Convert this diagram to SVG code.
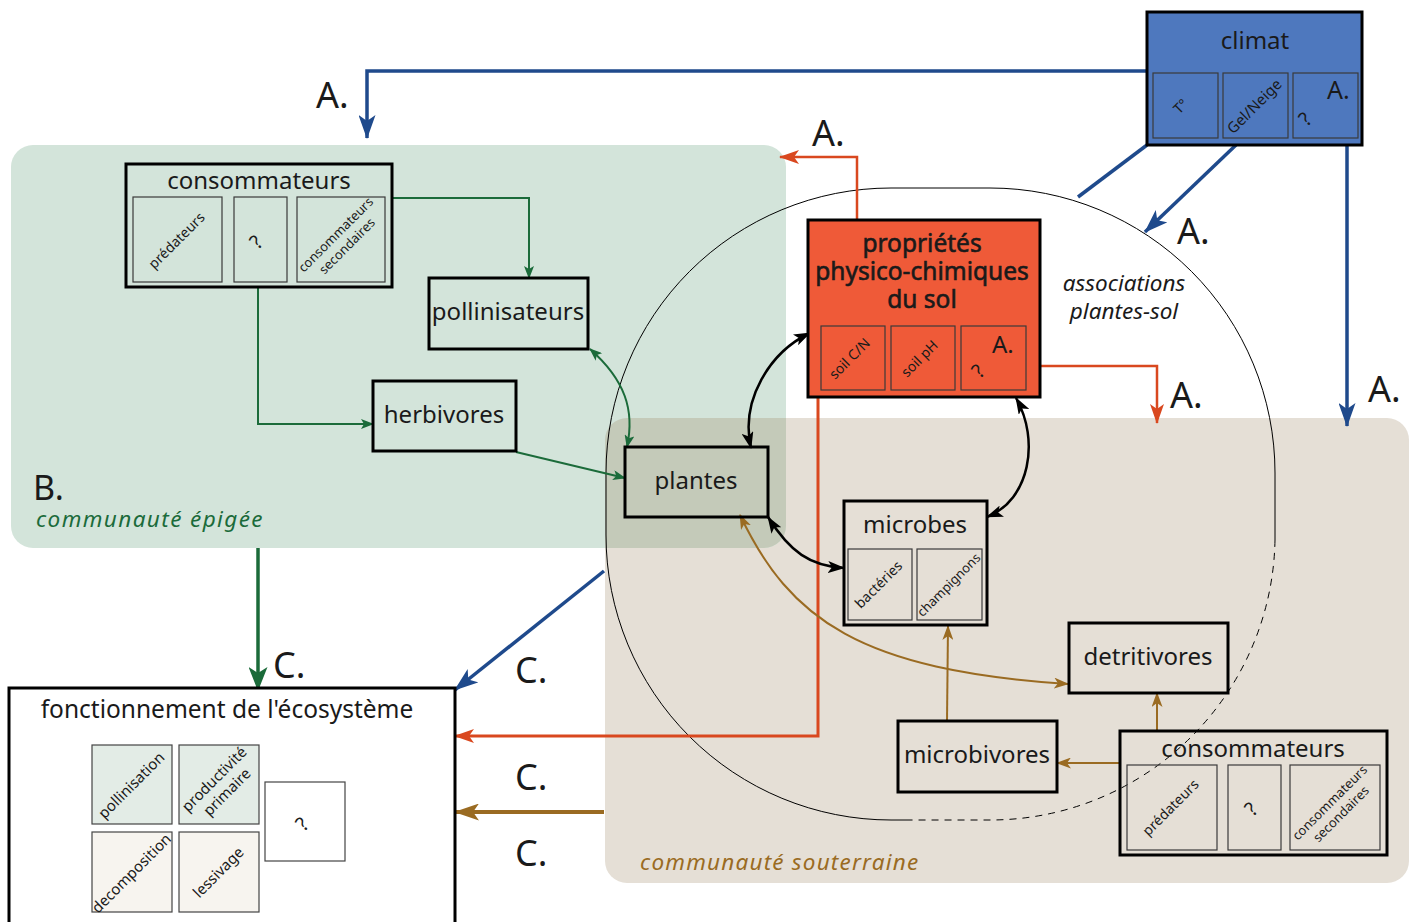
<svg xmlns="http://www.w3.org/2000/svg" width="1415" height="922" viewBox="0 0 1415 922">
<defs>
<style>
text{font-family:"Noto Sans",Lato,sans-serif;fill:#1a1a1a}
.t{font-size:24px;text-anchor:middle}
.s{font-size:14px;text-anchor:middle}
.q{font-size:20px;text-anchor:middle}
.lab{font-size:36px}
.nb{fill:none;stroke:#000;stroke-width:3}
.sb{fill:none;stroke:#3a3a3a;stroke-width:1.2}
.blue{fill:none;stroke:#1f4a8c;stroke-width:3.5}
.or{fill:none;stroke:#d9481f;stroke-width:2.5}
.gr{fill:none;stroke:#1b6b3a;stroke-width:2}
.br{fill:none;stroke:#9a6b22;stroke-width:2}
.bk{fill:none;stroke:#000;stroke-width:2.5}
.it{font-style:italic}
.md{stroke:#1a1a1a;stroke-width:0.6}
</style>
<clipPath id="cg"><rect x="11" y="145" width="775" height="403" rx="22"/></clipPath>
<marker id="mB" viewBox="0 0 24 17" refX="23" refY="8.5" markerWidth="24" markerHeight="17" markerUnits="userSpaceOnUse" orient="auto-start-reverse"><path d="M0,0 L24,8.5 L0,17 L6,8.5 z" fill="#1f4a8c"/></marker>
<marker id="mO" viewBox="0 0 20 14" refX="19" refY="7" markerWidth="20" markerHeight="14" markerUnits="userSpaceOnUse" orient="auto-start-reverse"><path d="M0,0 L20,7 L0,14 L5,7 z" fill="#d9481f"/></marker>
<marker id="mGs" viewBox="0 0 13 10" refX="12" refY="5" markerWidth="13" markerHeight="10" markerUnits="userSpaceOnUse" orient="auto-start-reverse"><path d="M0,0 L13,5 L0,10 L3,5 z" fill="#1b6b3a"/></marker>
<marker id="mGl" viewBox="0 0 24 19" refX="23" refY="9.5" markerWidth="24" markerHeight="19" markerUnits="userSpaceOnUse" orient="auto-start-reverse"><path d="M0,0 L24,9.5 L0,19 L6,9.5 z" fill="#1b6b3a"/></marker>
<marker id="mK" viewBox="0 0 17 12" refX="16" refY="6" markerWidth="17" markerHeight="12" markerUnits="userSpaceOnUse" orient="auto-start-reverse"><path d="M0,0 L17,6 L0,12 L4,6 z" fill="#000"/></marker>
<marker id="mRs" viewBox="0 0 15 11" refX="14" refY="5.5" markerWidth="15" markerHeight="11" markerUnits="userSpaceOnUse" orient="auto-start-reverse"><path d="M0,0 L15,5.5 L0,11 L4,5.5 z" fill="#9a6b22"/></marker>
<marker id="mRl" viewBox="0 0 25 17" refX="24" refY="8.5" markerWidth="25" markerHeight="17" markerUnits="userSpaceOnUse" orient="auto-start-reverse"><path d="M0,0 L25,8.5 L0,17 L6,8.5 z" fill="#9a6b22"/></marker>
</defs>

<g id="regions">
<rect x="605" y="418" width="804" height="465" rx="22" fill="#e5dfd6"/>
<rect x="11" y="145" width="775" height="403" rx="22" fill="#d3e4da"/>
<rect x="605" y="418" width="804" height="465" rx="22" fill="#c4cab9" clip-path="url(#cg)"/>
<text x="33" y="500" class="lab" style="font-size:34px">B.</text>
<text x="36" y="527" class="it" style="font-size:22.5px;letter-spacing:1.4px;fill:#1b6b3a">communauté épigée</text>
<text x="640" y="870" class="it" style="font-size:22.5px;letter-spacing:1.2px;fill:#9a6b22">communauté souterraine</text>
</g>

<g id="associations">
<path d="M910,820 L891,820 A285,285 0 0 1 606,535 L606,473 A285,285 0 0 1 891,188 L990,188 A285,285 0 0 1 1275,473 L1275,540" fill="none" stroke="#000" stroke-width="1"/>
<path d="M1275,540 A285,285 0 0 1 990,820 L910,820" fill="none" stroke="#000" stroke-width="1" stroke-dasharray="7,6"/>
<text x="1124" y="291" class="t it" style="font-size:22.5px">associations</text>
<text x="1124" y="319" class="t it" style="font-size:22.5px">plantes-sol</text>
</g>

<g id="connectors">
<path class="blue" d="M1147,71 L367,71 L367,138" marker-end="url(#mB)"/>
<path class="blue" d="M1147,145 L1078,197"/>
<path class="blue" d="M1236,145 L1145,232" marker-end="url(#mB)"/>
<path class="blue" d="M1347,145 L1347,426" marker-end="url(#mB)"/>
<path class="blue" d="M604,571 L455,690" marker-end="url(#mB)"/>
<path class="or" d="M857,220 L857,157 L780,157" marker-end="url(#mO)"/>
<path class="or" d="M1040,366 L1157,366 L1157,423" marker-end="url(#mO)"/>
<path class="or" d="M818,397 L818,736 L455,736" marker-end="url(#mO)" style="stroke-width:3"/>
<path class="br" d="M604,812 L455,812" marker-end="url(#mRl)" style="stroke-width:4"/>
<path class="br" d="M740,515 C790,620 860,670 1068,684" marker-start="url(#mRs)" marker-end="url(#mRs)"/>
<path class="br" d="M947,721 L948,626" marker-end="url(#mRs)"/>
<path class="br" d="M1157,731 L1157,693" marker-end="url(#mRs)"/>
<path class="br" d="M1120,763 L1057,763" marker-end="url(#mRs)"/>
<path class="gr" d="M392,198 L529,198 L529,278" marker-end="url(#mGs)"/>
<path class="gr" d="M258,287 L258,424 L373,424" marker-end="url(#mGs)"/>
<path class="gr" d="M516,452 L625,478" marker-end="url(#mGs)"/>
<path class="gr" d="M590,349 C625,380 635,410 627,447" marker-start="url(#mGs)" marker-end="url(#mGs)"/>
<path class="gr" d="M258,548 L258,690" marker-end="url(#mGl)" style="stroke-width:3.5"/>
<path class="bk" d="M751,448 C740,400 770,352 810,333" marker-start="url(#mK)" marker-end="url(#mK)"/>
<path class="bk" d="M1016,398 C1040,440 1030,500 987,517" marker-start="url(#mK)" marker-end="url(#mK)"/>
<path class="bk" d="M768,517 C790,552 810,566 844,568" marker-start="url(#mK)" marker-end="url(#mK)"/>
<text x="316" y="108" class="lab">A.</text>
<text x="812" y="146" class="lab">A.</text>
<text x="1177" y="244" class="lab">A.</text>
<text x="1170" y="408" class="lab">A.</text>
<text x="1368" y="402" class="lab">A.</text>
<text x="273" y="678" class="lab">C.</text>
<text x="515" y="683" class="lab">C.</text>
<text x="515" y="790" class="lab">C.</text>
<text x="515" y="866" class="lab">C.</text>
</g>

<g id="climat">
<rect x="1147" y="12" width="215" height="133" fill="#4e78be" stroke="#000" stroke-width="3"/>
<text x="1255" y="49" class="t">climat</text>
<rect x="1153" y="73" width="65" height="65" class="sb" stroke="#23395f"/>
<rect x="1223" y="73" width="65" height="65" class="sb" stroke="#23395f"/>
<rect x="1293" y="73" width="65" height="65" class="sb" stroke="#23395f"/>
<text class="s" transform="translate(1184,110) rotate(-45)">T°</text>
<text class="s" style="font-size:15px" transform="translate(1258,110) rotate(-45)">Gel/Neige</text>
<text x="1327" y="99" style="font-size:25px">A.</text>
<text class="q" transform="translate(1310,124) rotate(-45)">?</text>
</g>

<g id="consommateurs-epigee">
<rect x="126" y="164" width="266" height="123" class="nb"/>
<text x="259" y="189" class="t">consommateurs</text>
<rect x="133" y="197" width="89" height="85" class="sb"/>
<rect x="234" y="197" width="53" height="85" class="sb"/>
<rect x="297" y="197" width="88" height="85" class="sb"/>
<text class="s" transform="translate(180,244) rotate(-45)">prédateurs</text>
<text class="q" transform="translate(261,247) rotate(-45)">?</text>
<text class="s" style="font-size:13px" transform="translate(341,240) rotate(-45)"><tspan x="0" y="-3">consommateurs</tspan><tspan x="0" y="13">secondaires</tspan></text>
</g>

<g id="pollinisateurs">
<rect x="429" y="278" width="159" height="71" class="nb"/>
<text x="508" y="320" class="t">pollinisateurs</text>
</g>

<g id="herbivores">
<rect x="373" y="381" width="143" height="70" class="nb"/>
<text x="444" y="423" class="t">herbivores</text>
</g>

<g id="plantes">
<rect x="625" y="447" width="143" height="70" class="nb"/>
<text x="696" y="489" class="t">plantes</text>
</g>

<g id="proprietes">
<rect x="808" y="220" width="232" height="177" fill="#ef5a38" stroke="#000" stroke-width="3"/>
<text x="922" y="252" class="t md" style="font-size:24.5px">propriétés</text>
<text x="922" y="280" class="t md" style="font-size:24.5px">physico-chimiques</text>
<text x="922" y="308" class="t md" style="font-size:24.5px">du sol</text>
<rect x="821" y="326" width="64" height="64" class="sb" stroke="#222"/>
<rect x="891" y="326" width="64" height="64" class="sb" stroke="#222"/>
<rect x="961" y="326" width="65" height="64" class="sb" stroke="#222"/>
<text class="s" transform="translate(853,362) rotate(-45)">soil C/N</text>
<text class="s" transform="translate(923,362) rotate(-45)">soil pH</text>
<text x="992" y="353" style="font-size:24px">A.</text>
<text class="q" transform="translate(983,376) rotate(-45)">?</text>
</g>

<g id="microbes">
<rect x="844" y="501" width="143" height="124" class="nb"/>
<text x="915" y="533" class="t">microbes</text>
<rect x="848" y="549" width="64" height="71" class="sb"/>
<rect x="917" y="549" width="65" height="71" class="sb"/>
<text class="s" transform="translate(882,588) rotate(-45)">bactéries</text>
<text class="s" style="font-size:13px" transform="translate(952,588) rotate(-45)">champignons</text>
</g>

<g id="detritivores">
<rect x="1069" y="623" width="159" height="70" class="nb"/>
<text x="1148" y="665" class="t">detritivores</text>
</g>

<g id="microbivores">
<rect x="898" y="721" width="159" height="71" class="nb"/>
<text x="977" y="763" class="t">microbivores</text>
</g>

<g id="consommateurs-souterraine">
<rect x="1120" y="731" width="267" height="124" class="nb"/>
<text x="1253" y="757" class="t">consommateurs</text>
<rect x="1127" y="765" width="90" height="85" class="sb"/>
<rect x="1228" y="765" width="53" height="85" class="sb"/>
<rect x="1290" y="765" width="90" height="85" class="sb"/>
<text class="s" transform="translate(1174,811) rotate(-45)">prédateurs</text>
<text class="q" transform="translate(1256,814) rotate(-45)">?</text>
<text class="s" style="font-size:13px" transform="translate(1335,808) rotate(-45)"><tspan x="0" y="-3">consommateurs</tspan><tspan x="0" y="13">secondaires</tspan></text>
</g>

<g id="fonctionnement">
<rect x="9" y="688" width="446" height="240" fill="#fff" stroke="#000" stroke-width="3"/>
<text x="227" y="718" class="t" style="font-size:24.5px">fonctionnement de l'écosystème</text>
<rect x="92" y="745" width="80" height="79" fill="#e3ece6" stroke="#444" stroke-width="1.2"/>
<rect x="179" y="745" width="80" height="79" fill="#e3ece6" stroke="#444" stroke-width="1.2"/>
<rect x="265" y="782" width="80" height="79" fill="#fff" stroke="#444" stroke-width="1.2"/>
<rect x="92" y="832" width="80" height="80" fill="#f7f4ef" stroke="#444" stroke-width="1.2"/>
<rect x="179" y="832" width="80" height="80" fill="#f7f4ef" stroke="#444" stroke-width="1.2"/>
<text class="s" style="font-size:15px" transform="translate(135,789) rotate(-45)">pollinisation</text>
<text class="s" style="font-size:15px" transform="translate(220,785) rotate(-45)"><tspan x="0" y="-3">productivité</tspan><tspan x="0" y="15">primaire</tspan></text>
<text class="q" transform="translate(307,829) rotate(-45)">?</text>
<text class="s" style="font-size:15px" transform="translate(135,877) rotate(-45)">decomposition</text>
<text class="s" style="font-size:15px" transform="translate(222,876) rotate(-45)">lessivage</text>
</g>
</svg>
